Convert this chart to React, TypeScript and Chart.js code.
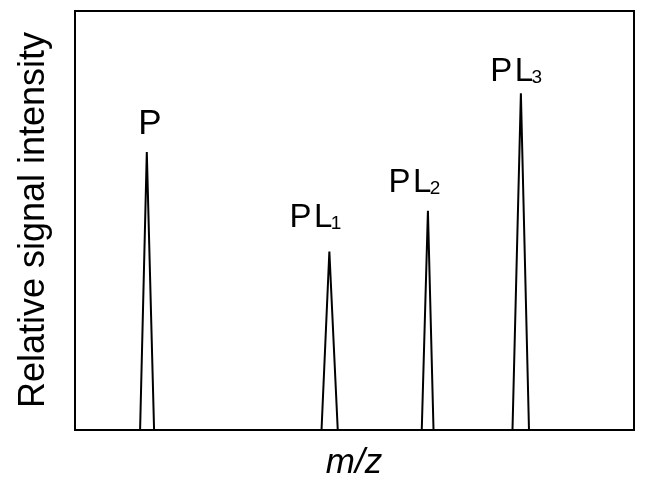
import React, { useEffect, useRef } from "react";
import { Chart, registerables } from "chart.js";

Chart.register(...registerables);

// Peak data (m/z in arbitrary units 0..100, relative intensity 0..100)
const peakNames = ["P", "PL1", "PL2", "PL3"];
const peakMz = [13.0, 45.6, 63.2, 79.8];
const peakIntensity = [66.2, 42.5, 52.2, 80.2];
const peakLeftMz = [11.8, 44.2, 62.1, 78.3];
const peakRightMz = [14.3, 47.1, 64.2, 81.25];

// Peak labels (anchor in data coordinates: left edge of text, baseline)
const labelMain = ["P", "PL", "PL", "PL"];
const labelSub = ["", "1", "2", "3"];
const labelMz = [11.48, 38.48, 56.16, 74.32];
const labelIntensity = [70.4, 48.4, 56.7, 83.2];
const labelSize = [35, 33, 33, 33];

const xTitle = "m/z";
const yTitle = "Relative signal intensity";

const FONT = "'Liberation Sans', Arial, sans-serif";

export default function App() {
  const ref = useRef<HTMLCanvasElement | null>(null);

  useEffect(() => {
    if (!ref.current) return;

    const points: any[] = [];
    peakNames.forEach((_, i) => {
      points.push({ x: peakLeftMz[i], y: 0 });
      points.push({ x: peakMz[i], y: peakIntensity[i] });
      points.push({ x: peakRightMz[i], y: 0 });
      if (i < peakNames.length - 1) points.push({ x: (peakRightMz[i] + peakLeftMz[i + 1]) / 2, y: null });
    });

    const framePlugin = {
      id: "frame",
      afterDraw(chart: any) {
        const { ctx, chartArea } = chart;
        ctx.save();
        ctx.strokeStyle = "#000";
        ctx.lineWidth = 2;
        ctx.strokeRect(chartArea.left + 1, chartArea.top + 1, chartArea.right - chartArea.left - 1, chartArea.bottom - chartArea.top - 1);
        ctx.restore();
      },
    };

    const labelPlugin = {
      id: "peakLabels",
      afterDatasetsDraw(chart: any) {
        const { ctx } = chart;
        const xs = chart.scales.x;
        const ys = chart.scales.y;
        ctx.save();
        ctx.fillStyle = "#000";
        ctx.textBaseline = "alphabetic";
        ctx.textAlign = "left";
        labelMain.forEach((main, i) => {
          let px = xs.getPixelForValue(labelMz[i]);
          const py = ys.getPixelForValue(labelIntensity[i]);
          ctx.font = `${labelSize[i]}px ${FONT}`;
          for (let k = 0; k < main.length; k++) {
            const ch = main[k];
            ctx.fillText(ch, px, py);
            px += ctx.measureText(ch).width + (k < main.length - 1 ? 2.5 : 0);
          }
          if (labelSub[i]) {
            ctx.font = `19px ${FONT}`;
            ctx.fillText(labelSub[i], px - 1.5, py + 2);
          }
        });
        ctx.restore();
      },
    };

    const chart = new Chart(ref.current, {
      type: "line",
      data: {
        datasets: [
          {
            data: points,
            borderColor: "#000",
            borderWidth: 2,
            pointRadius: 0,
            tension: 0,
            fill: false,
            spanGaps: false,
            borderJoinStyle: "miter",
          } as any,
        ],
      },
      options: {
        animation: false,
        responsive: false,
        maintainAspectRatio: false,
        layout: { padding: { top: 10, right: 12, left: 0, bottom: 0 } },
        plugins: { legend: { display: false }, tooltip: { enabled: false } },
        scales: {
          x: {
            type: "linear",
            min: 0,
            max: 100,
            ticks: { display: false },
            grid: { display: false, drawTicks: false },
            border: { display: false },
            title: {
              display: true,
              text: xTitle,
              color: "#000",
              font: { family: FONT, size: 35, style: "italic" },
              padding: { top: 12, bottom: 2 },
            },
          },
          y: {
            type: "linear",
            min: 0,
            max: 100,
            ticks: { display: false },
            grid: { display: false, drawTicks: false },
            border: { display: false },
            title: {
              display: true,
              text: yTitle,
              color: "#000",
              font: { family: FONT, size: 36 },
              padding: { top: 12, bottom: 18.8 },
            },
          },
        },
      },
      plugins: [framePlugin, labelPlugin],
    });

    return () => chart.destroy();
  }, []);

  return (
    <div style={{ position: "fixed", left: 0, top: 0, width: 646, height: 486, background: "#fff" }}>
      <canvas ref={ref} width={646} height={486} style={{ display: "block", width: 646, height: 486 }} />
    </div>
  );
}
